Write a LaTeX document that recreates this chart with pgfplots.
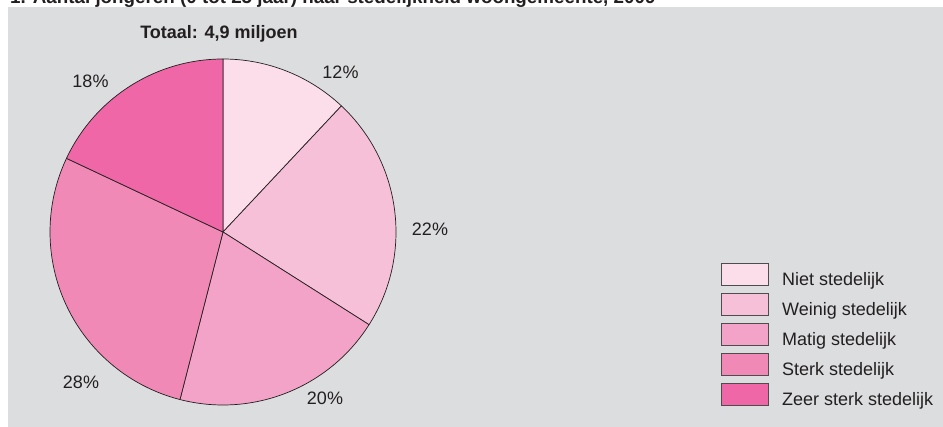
\documentclass[border=0pt]{standalone}
\usepackage{pgfplots}
\pgfplotsset{compat=1.18}
\usepackage{fontspec}
\setmainfont{Liberation Sans}
\definecolor{bg}{HTML}{DCDDDF}
\definecolor{cA}{HTML}{FCDEEA}
\definecolor{cB}{HTML}{F7C0D9}
\definecolor{cC}{HTML}{F4A3C8}
\definecolor{cD}{HTML}{F189B6}
\definecolor{cE}{HTML}{EF67A6}
\definecolor{txt}{HTML}{231F20}
% shares in percent, clockwise from 12 o'clock
\def\pA{12}\def\pB{22}\def\pC{20}\def\pD{28}\def\pE{18}
\def\cx{223}\def\cy{195}\def\R{173}
\begin{document}
\begin{tikzpicture}
\begin{axis}[at={(0,0)},anchor=origin,x=1pt,y=1pt,xmin=0,xmax=943,ymin=0,ymax=427,
  hide axis,clip=false]
\fill[bg] (8,0) rectangle (943,420);
\begin{scope}
\clip (0,0) rectangle (943,427);
\node[anchor=base west,font=\fontsize{18.8}{22}\selectfont\bfseries,text=txt,inner sep=0pt] at (10,423.6)
  {1. Aantal jongeren (0 tot 25 jaar) naar stedelijkheid woongemeente, 2009};
\end{scope}
\node[anchor=base,font=\fontsize{18}{21}\selectfont\bfseries,text=txt,inner sep=0pt] at (219,388) {Totaal: 4,9 miljoen};
% slices
\pgfmathsetmacro\aA{90}
\pgfmathsetmacro\aB{90-3.6*\pA}
\pgfmathsetmacro\aC{90-3.6*(\pA+\pB)}
\pgfmathsetmacro\aD{90-3.6*(\pA+\pB+\pC)}
\pgfmathsetmacro\aE{90-3.6*(\pA+\pB+\pC+\pD)}
\pgfmathsetmacro\aF{90-3.6*(\pA+\pB+\pC+\pD+\pE)}
\filldraw[fill=cA,draw=txt,line width=0.7pt,line join=round] (\cx,\cy) -- ({\cx+\R*cos(\aA)},{\cy+\R*sin(\aA)}) arc[start angle=\aA,end angle=\aB,radius=173pt] -- cycle;
\filldraw[fill=cB,draw=txt,line width=0.7pt,line join=round] (\cx,\cy) -- ({\cx+\R*cos(\aB)},{\cy+\R*sin(\aB)}) arc[start angle=\aB,end angle=\aC,radius=173pt] -- cycle;
\filldraw[fill=cC,draw=txt,line width=0.7pt,line join=round] (\cx,\cy) -- ({\cx+\R*cos(\aC)},{\cy+\R*sin(\aC)}) arc[start angle=\aC,end angle=\aD,radius=173pt] -- cycle;
\filldraw[fill=cD,draw=txt,line width=0.7pt,line join=round] (\cx,\cy) -- ({\cx+\R*cos(\aD)},{\cy+\R*sin(\aD)}) arc[start angle=\aD,end angle=\aE,radius=173pt] -- cycle;
\filldraw[fill=cE,draw=txt,line width=0.7pt,line join=round] (\cx,\cy) -- ({\cx+\R*cos(\aE)},{\cy+\R*sin(\aE)}) arc[start angle=\aE,end angle=\aF,radius=173pt] -- cycle;
% percentage labels
\begin{scope}[every node/.style={anchor=base,font=\fontsize{18}{21}\selectfont,text=txt,inner sep=0pt}]
\node at (340.5,348) {\pA\%};
\node at (430,191) {\pB\%};
\node at (325,22.5) {\pC\%};
\node at (81,38.5) {\pD\%};
\node at (90.5,339) {\pE\%};
\end{scope}
% legend
\begin{scope}[every node/.style={anchor=base west,font=\fontsize{18}{21}\selectfont,text=txt,inner sep=0pt}]
\filldraw[fill=cA,draw=txt!80,line width=0.6pt] (721,164) rectangle (768,142);
\node at (782,141) {Niet stedelijk};
\filldraw[fill=cB,draw=txt!80,line width=0.6pt] (721,134) rectangle (768,112);
\node at (782,111) {Weinig stedelijk};
\filldraw[fill=cC,draw=txt!80,line width=0.6pt] (721,104) rectangle (768,82);
\node at (782,81) {Matig stedelijk};
\filldraw[fill=cD,draw=txt!80,line width=0.6pt] (721,74) rectangle (768,52);
\node at (782,51) {Sterk stedelijk};
\filldraw[fill=cE,draw=txt!80,line width=0.6pt] (721,44) rectangle (768,22);
\node at (782,21) {Zeer sterk stedelijk};
\end{scope}
\end{axis}
\pgfresetboundingbox
\path[use as bounding box] (0,0) rectangle (943pt,427pt);
\end{tikzpicture}
\end{document}
